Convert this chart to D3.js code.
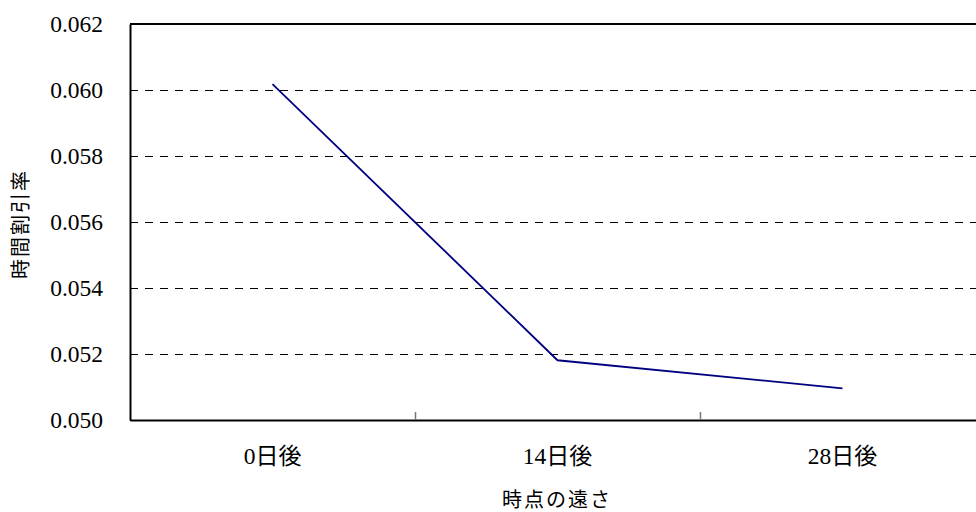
<!DOCTYPE html>
<html><head><meta charset="utf-8">
<script src="https://cdn.jsdelivr.net/npm/d3@7"></script>
<style>body{margin:0;background:#fff;overflow:hidden}
.serif{font-family:"Liberation Serif","Times New Roman",serif}
.cjk{font-family:"Noto Sans CJK JP","Noto Sans CJK SC",sans-serif}</style>
</head><body>
<svg id="c" width="976" height="512"></svg>
<script>
const categories = ["0日後", "14日後", "28日後"];
const catNums = ["0", "14", "28"];
const values = [0.06018, 0.05181, 0.05096];
const yTicks = [0.050, 0.052, 0.054, 0.056, 0.058, 0.060, 0.062];
const xTitle = "時点の遠さ";
const yTitle = "時間割引率";

const svg = d3.select("#c");
const L = 130, R = 985, T = 24, B = 420;
const x = d3.scaleBand().domain(categories).range([L, R]);
const y = d3.scaleLinear().domain([0.050, 0.062]).range([B, T]);

// gridlines
svg.append("g").selectAll("line").data(yTicks.filter(d => d > 0.050 && d < 0.062)).join("line")
  .attr("x1", L).attr("x2", R).attr("y1", d => Math.round(y(d)) + 0.5).attr("y2", d => Math.round(y(d)) + 0.5)
  .attr("stroke", "#000").attr("stroke-width", 1).attr("stroke-dasharray", "8,7");

// frame
svg.append("line").attr("x1", L).attr("x2", R).attr("y1", T).attr("y2", T).attr("stroke", "#000").attr("stroke-width", 2);
svg.append("line").attr("x1", R).attr("x2", R).attr("y1", T).attr("y2", B).attr("stroke", "#000").attr("stroke-width", 2);

// y axis
const ya = svg.append("g").attr("transform", `translate(${L},0)`)
  .call(d3.axisLeft(y).tickValues(yTicks).tickFormat(d3.format(".3f")).tickSizeInner(-5).tickSizeOuter(0).tickPadding(27));
ya.attr("font-family", null).attr("font-size", null);
ya.select(".domain").attr("stroke", "#000").attr("stroke-width", 2);
ya.selectAll(".tick line").attr("stroke", "#000");
ya.selectAll("text").attr("class", "serif").style("font-size", "23.5px").attr("fill", "#000");

// x axis
const xa = svg.append("g").attr("transform", `translate(0,${B})`)
  .call(d3.axisBottom(x).tickSize(0).tickFormat(() => ""));
xa.select(".domain").attr("stroke", "#000").attr("stroke-width", 2);
// boundary ticks
svg.append("g").selectAll("line").data(categories.slice(1)).join("line")
  .attr("x1", d => Math.round(x(d)) + 0.5).attr("x2", d => Math.round(x(d)) + 0.5).attr("y1", B).attr("y2", B - 8)
  .attr("stroke", "#777").attr("stroke-width", 1.5);

// category labels (mixed fonts)
const lab = svg.append("g").selectAll("text").data(categories).join("text")
  .attr("x", d => x(d) + x.bandwidth() / 2).attr("y", 464)
  .attr("text-anchor", "middle").attr("fill", "#000");
lab.append("tspan").attr("class", "serif").style("font-size", "23.5px").text((d, i) => catNums[i]);
lab.append("tspan").attr("class", "cjk").style("font-size", "23px").text((d, i) => d.slice(catNums[i].length));

// line
svg.append("path").datum(values)
  .attr("d", d3.line().x((d, i) => x(categories[i]) + x.bandwidth() / 2).y(d => y(d)))
  .attr("fill", "none").attr("stroke", "#000080").attr("stroke-width", 1.8);

// titles
svg.append("text").attr("x", 557).attr("y", 507).attr("text-anchor", "middle")
  .attr("class", "cjk").style("font-size", "20px").attr("letter-spacing", 2).attr("fill", "#000").text(xTitle);
svg.append("text").attr("transform", "translate(28,224) rotate(-90)").attr("text-anchor", "middle")
  .attr("class", "cjk").style("font-size", "20px").attr("letter-spacing", 2).attr("fill", "#000").text(yTitle);
</script>
</body></html>
